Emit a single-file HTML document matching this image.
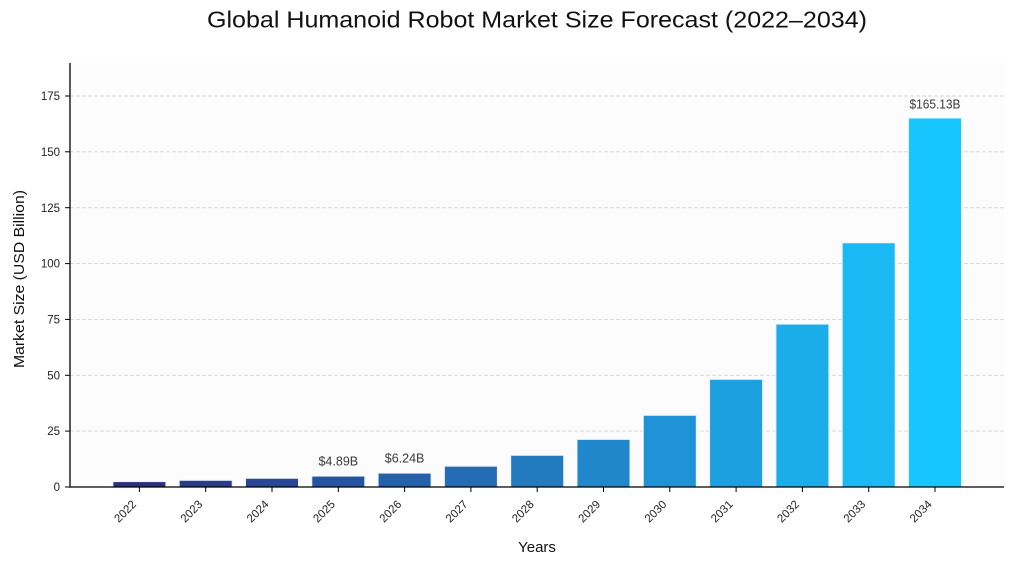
<!DOCTYPE html>
<html>
<head>
<meta charset="utf-8">
<style>
html,body{margin:0;padding:0;background:#ffffff;}
svg{display:block;font-family:"Liberation Sans",sans-serif;}
</style>
</head>
<body>
<svg width="1013" height="566" viewBox="0 0 1013 566" xmlns="http://www.w3.org/2000/svg">
  <rect x="0" y="0" width="1013" height="566" fill="#ffffff"/>
  <!-- plot area background -->
  <rect x="70" y="63" width="934" height="424" fill="#fcfcfc"/>

  <!-- grid lines -->
  <g stroke="#d4d4d4" stroke-width="0.9" stroke-dasharray="4 2">
    <line x1="70" y1="431.1" x2="1004" y2="431.1"/>
    <line x1="70" y1="375.3" x2="1004" y2="375.3"/>
    <line x1="70" y1="319.4" x2="1004" y2="319.4"/>
    <line x1="70" y1="263.6" x2="1004" y2="263.6"/>
    <line x1="70" y1="207.7" x2="1004" y2="207.7"/>
    <line x1="70" y1="151.8" x2="1004" y2="151.8"/>
    <line x1="70" y1="96.0" x2="1004" y2="96.0"/>
  </g>

  <!-- bars -->
  <g stroke="#eaf2fb" stroke-width="1">
    <rect x="112.9" y="481.6" width="53" height="5.4" fill="#2c2e80"/>
    <rect x="179.2" y="480.3" width="53" height="6.7" fill="#2a3b8b"/>
    <rect x="245.5" y="478.3" width="53" height="8.7" fill="#294795"/>
    <rect x="311.8" y="476.1" width="53" height="10.9" fill="#2754a0"/>
    <rect x="378.1" y="473.1" width="53" height="13.9" fill="#2561aa"/>
    <rect x="444.4" y="466.2" width="53" height="20.8" fill="#246db5"/>
    <rect x="510.7" y="455.3" width="53" height="31.7" fill="#227abf"/>
    <rect x="577.0" y="439.4" width="53" height="47.6" fill="#2087ca"/>
    <rect x="643.3" y="415.3" width="53" height="71.7" fill="#1f93d5"/>
    <rect x="709.6" y="379.3" width="53" height="107.7" fill="#1da0df"/>
    <rect x="775.9" y="324.1" width="53" height="162.9" fill="#1badea"/>
    <rect x="842.2" y="242.8" width="53" height="244.2" fill="#1ab9f4"/>
    <rect x="908.5" y="118.0" width="53" height="369.0" fill="#18c6ff"/>
  </g>

  <!-- value labels -->
  <g font-size="12.5" fill="#3a3a3a" text-anchor="middle">
    <text x="338.3" y="465.5">$4.89B</text>
    <text x="404.6" y="462.5">$6.24B</text>
    <text x="935.0" y="108.3" textLength="51" lengthAdjust="spacingAndGlyphs">$165.13B</text>
  </g>

  <!-- spines -->
  <line x1="70" y1="63" x2="70" y2="487.6" stroke="#000" stroke-width="1.3"/>
  <line x1="69.4" y1="487" x2="1004" y2="487" stroke="#000" stroke-width="1.3"/>

  <!-- y ticks -->
  <g stroke="#000" stroke-width="1">
    <line x1="65" y1="487" x2="70" y2="487"/>
    <line x1="65" y1="431.1" x2="70" y2="431.1"/>
    <line x1="65" y1="375.3" x2="70" y2="375.3"/>
    <line x1="65" y1="319.4" x2="70" y2="319.4"/>
    <line x1="65" y1="263.6" x2="70" y2="263.6"/>
    <line x1="65" y1="207.7" x2="70" y2="207.7"/>
    <line x1="65" y1="151.8" x2="70" y2="151.8"/>
    <line x1="65" y1="96.0" x2="70" y2="96.0"/>
  </g>
  <g font-size="11.5" fill="#222" text-anchor="end">
    <text x="60" y="491.1">0</text>
    <text x="60" y="435.2">25</text>
    <text x="60" y="379.4">50</text>
    <text x="60" y="323.5">75</text>
    <text x="60" y="267.7">100</text>
    <text x="60" y="211.8">125</text>
    <text x="60" y="155.9">150</text>
    <text x="60" y="100.1">175</text>
  </g>

  <!-- x ticks -->
  <g stroke="#000" stroke-width="1">
    <line x1="139.4" y1="487" x2="139.4" y2="492"/>
    <line x1="205.7" y1="487" x2="205.7" y2="492"/>
    <line x1="272.0" y1="487" x2="272.0" y2="492"/>
    <line x1="338.3" y1="487" x2="338.3" y2="492"/>
    <line x1="404.6" y1="487" x2="404.6" y2="492"/>
    <line x1="470.9" y1="487" x2="470.9" y2="492"/>
    <line x1="537.2" y1="487" x2="537.2" y2="492"/>
    <line x1="603.5" y1="487" x2="603.5" y2="492"/>
    <line x1="669.8" y1="487" x2="669.8" y2="492"/>
    <line x1="736.1" y1="487" x2="736.1" y2="492"/>
    <line x1="802.4" y1="487" x2="802.4" y2="492"/>
    <line x1="868.7" y1="487" x2="868.7" y2="492"/>
    <line x1="935.0" y1="487" x2="935.0" y2="492"/>
  </g>
  <g font-size="11.5" fill="#222" text-anchor="end">
    <text transform="translate(136.9,505) rotate(-45)">2022</text>
    <text transform="translate(203.2,505) rotate(-45)">2023</text>
    <text transform="translate(269.5,505) rotate(-45)">2024</text>
    <text transform="translate(335.8,505) rotate(-45)">2025</text>
    <text transform="translate(402.1,505) rotate(-45)">2026</text>
    <text transform="translate(468.4,505) rotate(-45)">2027</text>
    <text transform="translate(534.7,505) rotate(-45)">2028</text>
    <text transform="translate(601.0,505) rotate(-45)">2029</text>
    <text transform="translate(667.3,505) rotate(-45)">2030</text>
    <text transform="translate(733.6,505) rotate(-45)">2031</text>
    <text transform="translate(799.9,505) rotate(-45)">2032</text>
    <text transform="translate(866.2,505) rotate(-45)">2033</text>
    <text transform="translate(932.5,505) rotate(-45)">2034</text>
  </g>

  <!-- axis labels -->
  <text x="537" y="552" font-size="15" fill="#111" text-anchor="middle">Years</text>
  <text transform="translate(24,279) rotate(-90)" font-size="15" fill="#111" text-anchor="middle" textLength="178" lengthAdjust="spacingAndGlyphs">Market Size (USD Billion)</text>

  <!-- title -->
  <text x="537" y="27.5" font-size="23" fill="#111" text-anchor="middle" textLength="660" lengthAdjust="spacingAndGlyphs">Global Humanoid Robot Market Size Forecast (2022–2034)</text>
</svg>
</body>
</html>
